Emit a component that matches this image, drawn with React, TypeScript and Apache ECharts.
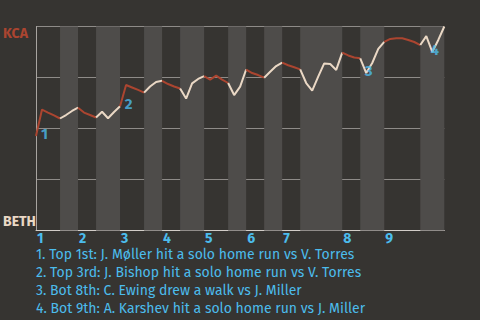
import React, { useEffect, useRef } from "react";
import * as echarts from "echarts";

// Win probability (KCA perspective), one value per play
const winProb: number[] = [
  0.463, 0.593, 0.578, 0.564, 0.549, 0.566, 0.586, 0.602, 0.578, 0.566,
  0.554, 0.582, 0.55, 0.581, 0.609, 0.713, 0.701, 0.689, 0.676, 0.706,
  0.728, 0.734, 0.718, 0.706, 0.696, 0.647, 0.721, 0.743, 0.757, 0.74,
  0.759, 0.74, 0.723, 0.664, 0.705, 0.789, 0.772, 0.762, 0.749, 0.778,
  0.806, 0.823, 0.81, 0.8, 0.79, 0.723, 0.686, 0.754, 0.819, 0.816,
  0.787, 0.872, 0.858, 0.848, 0.844, 0.772, 0.821, 0.89, 0.925, 0.939,
  0.942, 0.942, 0.934, 0.924, 0.909, 0.953, 0.875, 0.934, 1.0,
];

// Play index where each half-inning starts (last entry = end of game)
const halfStarts: number[] = [0, 4, 7, 10, 14, 18, 21, 24, 28, 32, 35, 38, 41, 44, 51, 54, 58, 64, 68];
const inningLabels: string[] = ["1", "2", "3", "4", "5", "6", "7", "8", "9"];

// Key events: play index and description
const eventPlays: number[] = [1, 15, 55, 66];
const eventTexts: string[] = [
  "1. Top 1st: J. Møller hit a solo home run vs V. Torres",
  "2. Top 3rd: J. Bishop hit a solo home run vs V. Torres",
  "3. Bot 8th: C. Ewing drew a walk vs J. Miller",
  "4. Bot 9th: A. Karshev hit a solo home run vs J. Miller",
];

const teamTop = "KCA";
const teamBottom = "BETH";

const BG = "#363431";
const BAND = "#4e4c4a";
const RED = "#ab4530";
const CREAM = "#ead8c5";
const BLUE = "#4cbcec";
const FONT = "'Fira Sans', Lato, 'Noto Sans', sans-serif";

export default function App() {
  const ref = useRef<HTMLDivElement>(null);
  useEffect(() => {
    if (!ref.current) return;
    const chart = echarts.init(ref.current, undefined, { renderer: "svg" });

    const inningTops = halfStarts.filter((_, i) => i % 2 === 0 && i < halfStarts.length - 1);

    const bands: any[] = [];
    for (let h = 1; h < halfStarts.length - 1; h += 2) {
      bands.push([{ xAxis: halfStarts[h] }, { xAxis: halfStarts[h + 1] }]);
    }

    const lineSeries: any[] = [];
    for (let h = 0; h < halfStarts.length - 1; h++) {
      const pts: number[][] = [];
      for (let i = halfStarts[h]; i <= halfStarts[h + 1]; i++) pts.push([i, winProb[i]]);
      lineSeries.push({
        type: "line",
        data: pts,
        symbol: "none",
        z: 3,
        lineStyle: { color: h % 2 === 0 ? RED : CREAM, width: 2 },
        silent: true,
      });
    }

    const eventData = eventPlays.map((p, k) => ({
      value: [p - 1, Math.min(winProb[p - 1], winProb[p])],
      label: { formatter: String(k + 1) },
    }));

    chart.setOption({
      animation: false,
      backgroundColor: BG,
      textStyle: { fontFamily: FONT },
      title: {
        text: eventTexts.join("\n"),
        left: 36,
        top: 245,
        padding: 0,
        textStyle: { color: BLUE, fontSize: 14, lineHeight: 18, fontWeight: "normal", fontFamily: FONT },
      },
      grid: { left: 35.3, top: 26.5, width: 409, height: 204 },
      xAxis: {
        type: "value",
        min: 0,
        max: halfStarts[halfStarts.length - 1],
        splitLine: { show: false },
        axisTick: { show: false },
        axisLine: { show: true, lineStyle: { color: "#d2cdc8", width: 1 } },
        axisLabel: {
          customValues: inningTops,
          formatter: (v: number) => inningLabels[inningTops.indexOf(v)] ?? "",
          color: BLUE,
          fontWeight: "bold",
          fontSize: 14,
          fontFamily: FONT,
          align: "left",
          margin: 1,
          padding: [0, 0, 0, 1],
        },
      },
      yAxis: {
        type: "value",
        min: 0,
        max: 1,
        interval: 0.25,
        axisLine: { show: true, lineStyle: { color: "#a8a4a0", width: 1 } },
        axisTick: { show: false },
        splitLine: { show: true, lineStyle: { color: "#8e8b88", width: 1 } },
        axisLabel: {
          margin: 33,
          align: "left",
          formatter: (v: number) => (v === 1 ? "{k|" + teamTop + "}" : v === 0 ? "{b|" + teamBottom + "}" : ""),
          rich: {
            k: { color: RED, fontWeight: "bold", fontSize: 14, fontFamily: FONT, padding: [13, 0, 0, 0] },
            b: { color: CREAM, fontWeight: "bold", fontSize: 14, fontFamily: FONT, padding: [0, 0, 19, 0] },
          },
        },
      },
      series: [
        {
          type: "line",
          data: winProb.map((v, i) => [i, v]),
          symbol: "none",
          lineStyle: { width: 0, opacity: 0 },
          z: 1,
          silent: true,
          markArea: {
            silent: true,
            itemStyle: { color: BAND },
            data: bands,
          },
        },
        ...lineSeries,
        {
          type: "scatter",
          data: eventData,
          symbolSize: 0,
          z: 4,
          silent: true,
          label: {
            show: true,
            position: "inside",
            offset: [8.5, -2],
            color: BLUE,
            fontWeight: "bold",
            fontSize: 15,
            fontFamily: FONT,
          },
        },
      ],
    });
    return () => chart.dispose();
  }, []);
  return <div ref={ref} style={{ position: "absolute", left: 0, top: 0, width: 480, height: 320 }} />;
}
